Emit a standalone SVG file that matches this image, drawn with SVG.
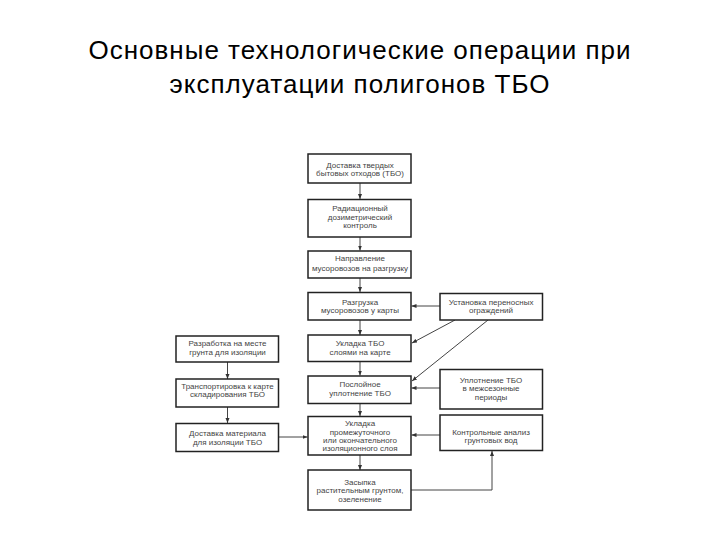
<svg xmlns="http://www.w3.org/2000/svg" width="720" height="540" viewBox="0 0 720 540">
<defs>
<marker id="ah" viewBox="0 0 10 10" refX="10" refY="5" markerWidth="5" markerHeight="5" markerUnits="userSpaceOnUse" orient="auto">
<path d="M0,1 L10,5 L0,9 z" fill="#333"/>
</marker>
</defs>
<style>
.title{font-family:"Liberation Sans",Arial,sans-serif;font-size:26px;letter-spacing:1px;fill:#000;text-anchor:middle}
.box{fill:#fff;stroke:#222;stroke-width:1.5}
.t{font-family:"Liberation Sans",Arial,sans-serif;font-size:8px;fill:#444;text-anchor:middle}
.c{fill:none;stroke:#444;stroke-width:1;marker-end:url(#ah)}
</style>
<rect width="720" height="540" fill="#fff"/>
<g id="title">
<text class="title" x="360" y="59">Основные технологические операции при</text>
<text class="title" x="360" y="93">эксплуатации полигонов ТБО</text>
</g>
<g id="connectors">
<line class="c" x1="360" y1="183" x2="360" y2="199"/>
<line class="c" x1="360" y1="237" x2="360" y2="250.5"/>
<line class="c" x1="360" y1="278" x2="360" y2="292"/>
<line class="c" x1="360" y1="320" x2="360" y2="335"/>
<line class="c" x1="360" y1="361.5" x2="360" y2="375.5"/>
<line class="c" x1="360" y1="403.5" x2="360" y2="416"/>
<line class="c" x1="360" y1="455" x2="360" y2="470"/>
<line class="c" x1="440" y1="306" x2="411.5" y2="306"/>
<line class="c" x1="455" y1="320" x2="412" y2="343"/>
<line class="c" x1="488" y1="320" x2="412" y2="381"/>
<line class="c" x1="440" y1="388" x2="411.5" y2="388"/>
<line class="c" x1="440" y1="435" x2="411.5" y2="435"/>
<polyline class="c" points="411,490 492,490 492,451"/>
<line class="c" x1="227.5" y1="362" x2="227.5" y2="379"/>
<line class="c" x1="227.5" y1="407" x2="227.5" y2="423"/>
<line class="c" x1="278.5" y1="437" x2="307.5" y2="437"/>
</g>
<g id="n1"><rect class="box" x="308" y="154" width="103" height="29"/>
<text class="t" x="360" y="167.5">Доставка твердых</text><text class="t" x="360" y="176">бытовых отходов (ТБО)</text></g>
<g id="n2"><rect class="box" x="308" y="199.5" width="103" height="37.5"/>
<text class="t" x="360" y="211">Радиационный</text><text class="t" x="360" y="219.5">дозиметрический</text><text class="t" x="360" y="228">контроль</text></g>
<g id="n3"><rect class="box" x="308" y="251" width="103" height="27"/>
<text class="t" x="360" y="261">Направление</text><text class="t" x="360" y="270.5">мусоровозов на разгрузку</text></g>
<g id="n4"><rect class="box" x="308" y="292.5" width="103" height="27.5"/>
<text class="t" x="360" y="304.5">Разгрузка</text><text class="t" x="360" y="313">мусоровозов у карты</text></g>
<g id="n5"><rect class="box" x="308" y="335" width="103" height="26.5"/>
<text class="t" x="360" y="346">Укладка ТБО</text><text class="t" x="360" y="354.5">слоями на карте</text></g>
<g id="n6"><rect class="box" x="308" y="376" width="103" height="27.5"/>
<text class="t" x="360" y="387">Послойное</text><text class="t" x="360" y="396">уплотнение ТБО</text></g>
<g id="n7"><rect class="box" x="308" y="416.5" width="103" height="38.5"/>
<text class="t" x="360" y="425.5">Укладка</text><text class="t" x="360" y="434.5">промежуточного</text><text class="t" x="360" y="443">или окончательного</text><text class="t" x="360" y="451">изоляционного слоя</text></g>
<g id="n8"><rect class="box" x="308" y="470" width="103" height="40"/>
<text class="t" x="360" y="484.5">Засыпка</text><text class="t" x="360" y="493">растительным грунтом,</text><text class="t" x="360" y="502">озеленение</text></g>
<g id="l1"><rect class="box" x="176" y="336" width="102.5" height="26"/>
<text class="t" x="227.5" y="346">Разработка на месте</text><text class="t" x="227.5" y="354.5">грунта для изоляции</text></g>
<g id="l2"><rect class="box" x="176" y="379" width="102.5" height="28"/>
<text class="t" x="227.5" y="388.5">Транспортировка к карте</text><text class="t" x="227.5" y="397">складирования ТБО</text></g>
<g id="l3"><rect class="box" x="176" y="423.5" width="102.5" height="28"/>
<text class="t" x="227.5" y="436">Доставка материала</text><text class="t" x="227.5" y="444.5">для изоляции ТБО</text></g>
<g id="r1"><rect class="box" x="440" y="293.5" width="102.5" height="26.5"/>
<text class="t" x="491" y="304.5">Установка переносных</text><text class="t" x="491" y="313">ограждений</text></g>
<g id="r2"><rect class="box" x="440" y="369.5" width="102.5" height="39.5"/>
<text class="t" x="491" y="383">Уплотнение ТБО</text><text class="t" x="491" y="391">в межсезонные</text><text class="t" x="491" y="399.5">периоды</text></g>
<g id="r3"><rect class="box" x="440" y="415" width="102.5" height="35.5"/>
<text class="t" x="491" y="435">Контрольные анализ</text><text class="t" x="491" y="443">грунтовых вод</text></g>
</svg>
